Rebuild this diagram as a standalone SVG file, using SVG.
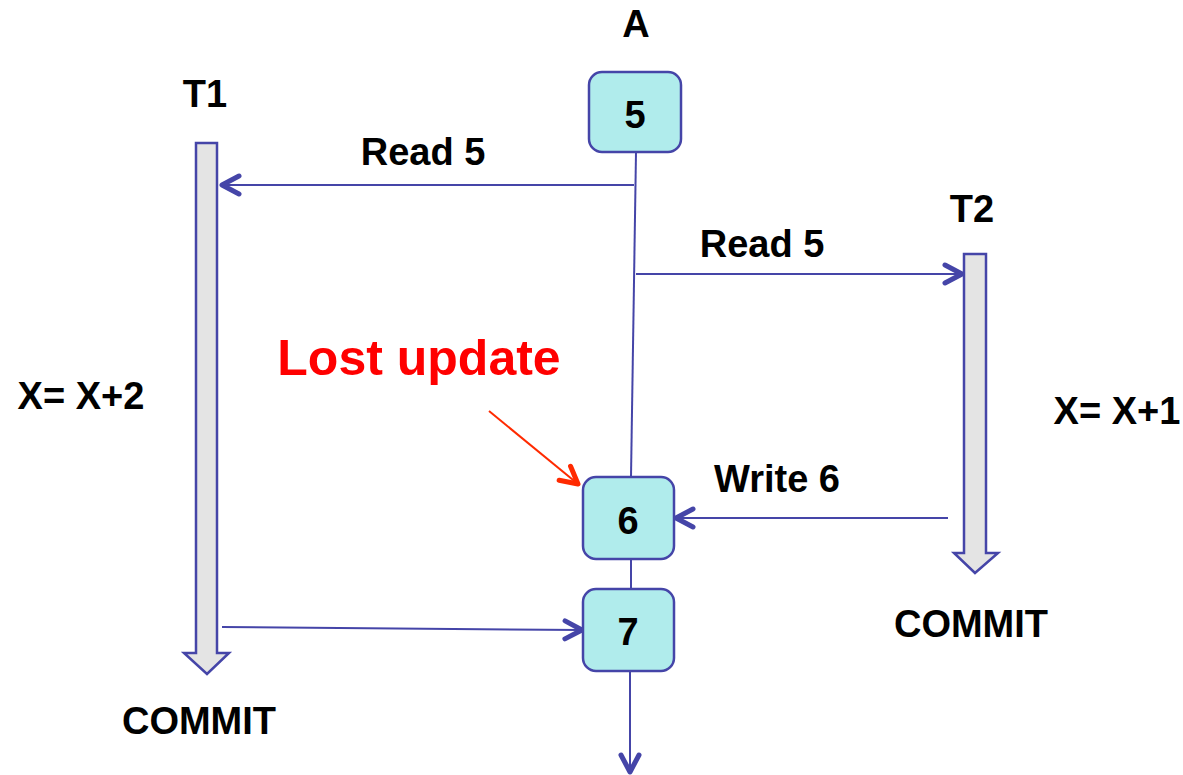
<svg xmlns="http://www.w3.org/2000/svg" width="1183" height="775" viewBox="0 0 1183 775">
  <defs>
    <style>
      .lbl { font-family: "Liberation Sans", Arial, sans-serif; font-weight: bold; fill: #000; text-anchor: middle; }
      .big { font-size: 38px; }
      .red { fill: #ff0000; font-size: 50px; }
      .box { fill: #b0ecec; stroke: #4545a8; stroke-width: 2.5; }
      .bar { fill: #e4e4e4; stroke: #4545a8; stroke-width: 2.5; stroke-linejoin: miter; }
      .wire { stroke: #4545a8; stroke-width: 2; fill: none; }
      .flow { stroke: #4545a8; stroke-width: 2; fill: none; marker-end: url(#chev); }
      .hint { stroke: #ff2a00; stroke-width: 2; fill: none; marker-end: url(#chevRed); }
    </style>
    <marker id="chev" viewBox="0 0 24 24" refX="21" refY="12" markerWidth="24" markerHeight="24" markerUnits="userSpaceOnUse" orient="auto">
      <path d="M4,3 L21,12 L4,21" fill="none" stroke="#4545a8" stroke-width="5" stroke-linecap="round" stroke-linejoin="round"/>
    </marker>
    <marker id="chevRed" viewBox="0 0 24 24" refX="21" refY="12" markerWidth="24" markerHeight="24" markerUnits="userSpaceOnUse" orient="auto">
      <path d="M4,3 L21,12 L4,21" fill="none" stroke="#ff2a00" stroke-width="5" stroke-linecap="round" stroke-linejoin="round"/>
    </marker>
  </defs>

  <rect width="1183" height="775" fill="#ffffff"/>

  <!-- connectors -->
  <g id="connectors">
    <line class="wire" x1="636" y1="152" x2="631" y2="477"/>
    <line class="wire" x1="631" y1="559" x2="631" y2="589"/>
    <line class="flow" x1="630" y1="671" x2="630" y2="772"/>
    <line class="flow" x1="634" y1="185" x2="222" y2="185"/>
    <line class="flow" x1="636" y1="274" x2="962" y2="274"/>
    <line class="flow" x1="948" y1="518" x2="676" y2="518"/>
    <line class="flow" x1="222" y1="627" x2="582" y2="630"/>
    <line class="hint" x1="489" y1="411" x2="578" y2="484"/>
  </g>

  <!-- shared value A -->
  <g id="nodeA">
    <text class="lbl big" x="636" y="37">A</text>
  </g>
  <g id="val5">
    <rect class="box" x="589" y="72" width="92" height="80" rx="13"/>
    <text class="lbl big" x="635" y="128">5</text>
  </g>
  <g id="val6">
    <rect class="box" x="583" y="477" width="91" height="82" rx="13"/>
    <text class="lbl big" x="628" y="534">6</text>
  </g>
  <g id="val7">
    <rect class="box" x="583" y="589" width="91" height="82" rx="13"/>
    <text class="lbl big" x="628" y="645">7</text>
  </g>

  <!-- transaction T1 -->
  <g id="T1">
    <text class="lbl big" x="205" y="107">T1</text>
    <polygon class="bar" points="196,143 217,143 217,653 229,653 207,674 184,653 196,653"/>
    <text class="lbl big" x="81" y="409">X= X+2</text>
    <text class="lbl big" x="199" y="734">COMMIT</text>
  </g>

  <!-- transaction T2 -->
  <g id="T2">
    <text class="lbl big" x="972" y="222">T2</text>
    <polygon class="bar" points="964,254 986,254 986,553 998,553 975,573 954,553 964,553"/>
    <text class="lbl big" x="1117" y="424">X= X+1</text>
    <text class="lbl big" x="971" y="637">COMMIT</text>
  </g>

  <!-- message labels -->
  <g id="labels">
    <text class="lbl big" x="423" y="165">Read 5</text>
    <text class="lbl big" x="762" y="257">Read 5</text>
    <text class="lbl big" x="777" y="492">Write 6</text>
    <text class="lbl red" x="419" y="375">Lost update</text>
  </g>
</svg>
